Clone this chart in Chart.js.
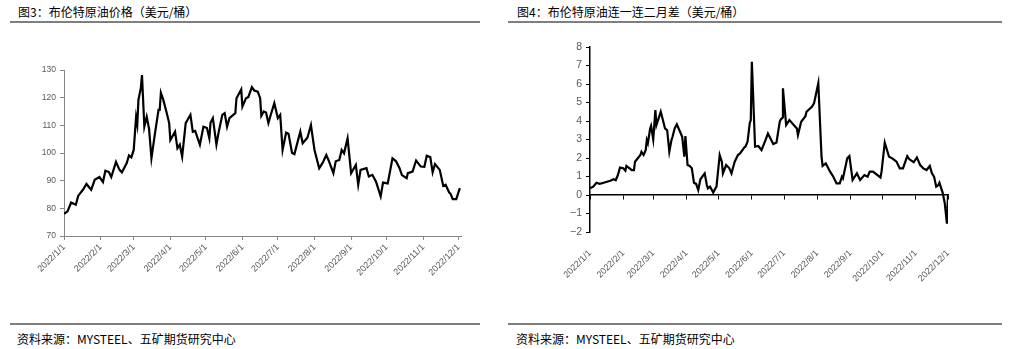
<!DOCTYPE html>
<html><head><meta charset="utf-8">
<script src="https://cdn.jsdelivr.net/npm/chart.js@4/dist/chart.umd.min.js"></script>
<style>
body{margin:0;width:1013px;height:349px;position:relative;background:#fff;overflow:hidden;font-family:"Noto Sans CJK SC",sans-serif}
.t{position:absolute;font-size:12px;color:#000;white-space:nowrap;line-height:14px}
.r{position:absolute;height:2px;background:#7f7f7f}
.box{position:absolute;top:0}
</style></head><body>
<div class="t" style="left:18px;top:5px">图3：布伦特原油价格（美元/桶）</div>
<div class="r" style="left:10px;top:21px;width:470px"></div>
<div class="t" style="left:517px;top:5px">图4：布伦特原油连一连二月差（美元/桶）</div>
<div class="r" style="left:508px;top:21px;width:494px"></div>
<div class="r" style="left:10px;top:323px;width:470px"></div>
<div class="r" style="left:508px;top:323px;width:494px"></div>
<div class="t" style="left:17px;top:332px">资料来源：MYSTEEL、五矿期货研究中心</div>
<div class="t" style="left:516px;top:332px">资料来源：MYSTEEL、五矿期货研究中心</div>
<div class="box" style="left:0"><canvas id="c1" width="500" height="320"></canvas></div>
<div class="box" style="left:500px"><canvas id="c2" width="513" height="320"></canvas></div>
<script>
// x-axis tick labels (month starts)
const tickLabels = ["2022/1/1","2022/2/1","2022/3/1","2022/4/1","2022/5/1","2022/6/1","2022/7/1","2022/8/1","2022/9/1","2022/10/1","2022/11/1","2022/12/1"];
const monthStarts = ["01-01","02-01","03-01","04-01","05-01","06-01","07-01","08-01","09-01","10-01","11-01","12-01"];

// Fig 3: Brent price (USD/bbl)
const priceDates = ["01-01","01-04","01-07","01-11","01-13","01-17","01-20","01-24","01-27","01-31",
"02-03","02-05","02-08","02-10","02-14","02-17","02-19","02-23","02-25","02-27",
"03-01","03-03","03-04","03-05","03-07","03-08","03-10","03-12","03-14","03-16","03-19","03-22","03-23","03-24","03-26","03-29","03-31",
"04-01","04-05","04-07","04-09","04-11","04-14","04-18","04-20","04-22","04-26","04-29",
"05-02","05-04","05-05","05-07","05-10","05-12","05-15","05-17","05-19","05-21","05-26","05-27","05-31",
"06-01","06-04","06-06","06-09","06-11","06-14","06-16","06-17","06-19","06-21","06-23","06-25","06-28",
"07-01","07-03","07-05","07-08","07-10","07-13","07-15","07-20","07-22","07-26","07-29",
"08-01","08-05","08-08","08-11","08-13","08-17","08-19","08-22","08-24","08-26","08-29",
"09-01","09-05","09-07","09-09","09-14","09-16","09-19","09-22","09-26","09-28",
"10-02","10-06","10-09","10-12","10-14","10-18","10-19","10-23","10-26","10-30",
"11-02","11-04","11-07","11-09","11-11","11-15","11-18","11-20","11-23","11-24","11-26","11-29","12-02"];
const priceValues = [78.0,78.9,82.1,81.3,84.5,86.7,88.8,86.7,90.3,91.3,
89.5,93.6,93.1,91.3,96.8,93.9,93.0,96.3,99.1,98.4,
101.1,112.9,110.3,119.2,123.4,128.2,109.5,113.1,108.7,98.1,107.1,115.6,115.6,121.8,119.3,114.4,110.8,
104.7,107.7,101.7,103.0,98.7,110.8,113.8,107.7,108.0,103.0,109.5,
109.0,105.3,110.9,112.6,103.0,107.8,113.8,114.4,109.5,112.6,114.4,119.8,123.0,
116.8,119.8,120.2,123.8,122.6,122.2,119.8,113.4,115.0,114.6,110.8,113.8,118.0,
112.6,113.8,101.1,107.4,107.0,100.0,99.6,107.7,103.5,105.5,110.1,
101.1,94.5,96.5,99.3,97.3,92.7,97.0,97.5,101.1,99.9,105.3,
92.7,95.7,88.5,93.9,94.5,91.5,92.1,89.7,84.3,89.3,
89.0,98.1,97.0,94.5,92.0,90.9,92.7,93.3,97.3,95.1,
95.0,99.0,98.5,93.0,96.0,93.9,88.1,88.5,85.7,85.4,83.3,83.3,87.3];

// Fig 4: Brent M1-M2 spread (USD/bbl)
const spreadDates = ["01-01","01-04","01-07","01-10","01-13","01-16","01-20","01-23","01-25","01-27","01-29",
"02-01","02-03","02-04","02-09","02-11","02-12","02-17","02-18","02-20","02-22","02-23","02-24","02-26","02-27",
"03-01","03-03","03-04","03-06","03-08","03-10","03-12","03-14","03-16","03-18","03-19","03-21","03-23","03-26","03-28","03-30","03-31",
"04-02","04-04","04-06","04-08","04-10","04-12","04-14","04-18","04-20","04-21","04-23","04-26","04-28","04-29",
"05-02","05-04","05-05","05-08","05-11","05-13","05-16","05-19","05-21","05-25","05-26","05-28","05-30","05-31",
"06-01","06-04","06-07","06-10","06-14","06-16","06-21","06-24","06-27","06-28","06-30","06-30",
"07-03","07-06","07-13","07-14","07-17","07-21","07-22","07-27","07-29",
"08-02","08-05","08-06","08-09","08-13","08-16","08-19","08-22","08-24","08-25","08-29","08-31",
"09-03","09-07","09-10","09-14","09-17","09-19","09-22","09-29","09-30",
"10-03","10-07","10-10","10-14","10-17","10-20","10-24","10-26","10-30",
"11-02","11-05","11-08","11-11","11-14","11-16","11-18","11-20","11-22","11-23","11-26","11-28","11-30","12-01"];
const spreadValues = [0.36,0.45,0.66,0.60,0.65,0.70,0.77,0.85,0.80,1.08,1.48,
1.45,1.32,1.57,1.35,1.35,1.80,2.16,2.34,2.16,2.43,2.97,2.80,3.55,3.73,
3.00,4.59,3.78,4.14,4.50,4.05,3.60,3.50,2.34,2.97,3.15,3.60,3.82,3.42,3.15,2.07,3.19,
1.62,1.57,1.44,0.66,0.60,0.27,0.85,1.17,0.54,0.36,0.45,0.13,0.36,0.45,
2.16,1.80,1.17,1.62,1.44,1.17,1.80,2.16,2.25,2.58,2.61,2.88,3.87,4.05,
7.20,2.61,2.65,2.43,3.01,3.33,2.76,2.84,3.96,4.09,4.20,5.77,
3.78,4.05,3.60,3.24,3.96,4.26,4.50,4.77,4.95,
6.04,2.07,1.57,1.71,1.26,0.99,0.63,0.63,0.99,0.90,1.98,2.10,
0.81,1.17,0.81,1.08,0.99,1.26,1.26,0.95,1.26,
2.83,2.07,1.98,1.80,1.44,1.44,2.10,1.93,1.77,
2.03,1.62,1.44,1.35,1.57,1.17,0.99,0.45,0.54,0.66,0.13,-0.45,-1.55,0.0];

function dayOfYear(md){const [m,d]=md.split('-').map(Number);return (Date.UTC(2022,m-1,d)-Date.UTC(2022,0,1))/86400000;}
const monthDays = monthStarts.map(dayOfYear);
const pts = (ds,vs)=>ds.map((d,i)=>({x:dayOfYear(d),y:vs[i]}));
const setTicks = s => { s.ticks = monthDays.map(v=>({value:v})); };
const labelCb = (v,i)=>tickLabels[i];
const grey = '#868686', txt = '#595959';
const FONT = '"Liberation Sans", Arial, sans-serif';

new Chart(document.getElementById('c1'), {
  type:'line',
  data:{datasets:[{data:pts(priceDates,priceValues),borderColor:'#000',borderWidth:2.2,pointRadius:0,tension:0,fill:false}]},
  options:{
    responsive:false, animation:false, events:[],
    layout:{padding:{left:0,top:70,right:39,bottom:0}},
    plugins:{legend:{display:false},tooltip:{enabled:false}},
    scales:{
      x:{type:'linear',min:0,max:336,
        afterBuildTicks:setTicks,
        afterFit:s=>{s.height=84;s.paddingLeft=0;s.paddingRight=0;},
        grid:{display:true,drawOnChartArea:false,drawTicks:true,tickLength:4,color:grey},
        border:{display:true,color:grey,width:1},
        ticks:{autoSkip:false,maxRotation:45,minRotation:45,padding:2,color:txt,font:{family:FONT,size:9},callback:labelCb}},
      y:{min:70,max:130,
        afterFit:s=>{s.width=64;s.paddingTop=0;s.paddingBottom=0;},
        grid:{display:true,drawOnChartArea:false,drawTicks:true,tickLength:4,color:grey},
        border:{display:true,color:grey,width:1},
        ticks:{stepSize:10,padding:4,color:txt,font:{family:FONT,size:8.5}}}
    }
  }
});

new Chart(document.getElementById('c2'), {
  type:'line',
  data:{datasets:[{data:pts(spreadDates,spreadValues),borderColor:'#000',borderWidth:2.2,pointRadius:0,tension:0,fill:false}]},
  options:{
    responsive:false, animation:false, events:[],
    layout:{padding:{left:0,top:47,right:65,bottom:0}},
    plugins:{legend:{display:false},tooltip:{enabled:false}},
    scales:{
      x:{type:'linear',min:0,max:334,
        afterBuildTicks:setTicks,
        afterFit:s=>{s.height=88;s.paddingLeft=0;s.paddingRight=0;},
        grid:{display:false},
        border:{display:false},
        ticks:{autoSkip:false,maxRotation:45,minRotation:45,padding:8,color:txt,font:{family:FONT,size:9},callback:labelCb}},
      x2:{type:'linear',axis:'x',position:{y:0},min:0,max:334,
        afterBuildTicks:setTicks,
        afterFit:s=>{s.paddingLeft=0;s.paddingRight=0;},
        grid:{display:true,drawOnChartArea:false,drawTicks:true,tickLength:4,color:'#000'},
        border:{display:true,color:'#000',width:1.5},
        ticks:{display:false}},
      y:{min:-2,max:8,
        afterFit:s=>{s.width=90;s.paddingTop=0;s.paddingBottom=0;},
        grid:{display:true,drawOnChartArea:false,drawTicks:true,tickLength:4,color:'#000'},
        border:{display:true,color:'#000',width:1.5},
        ticks:{stepSize:1,padding:4,color:txt,font:{family:FONT,size:10.5},callback:v=>v<0?'\u2212'+Math.abs(v):String(v)}}
    }
  }
});
</script>
</body></html>
